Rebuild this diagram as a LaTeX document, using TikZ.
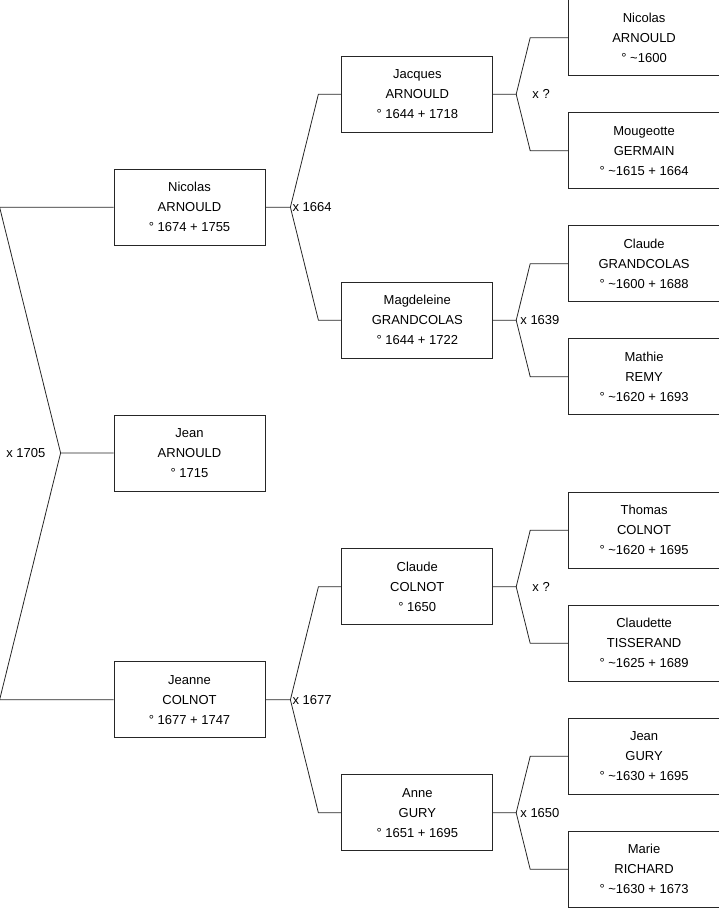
\documentclass[tikz,border=0pt]{standalone}
\usepackage{fontspec}
\setmainfont{Liberation Sans}
\usetikzlibrary{positioning}
\tikzset{person/.style={draw=black!85, line width=0.8pt, minimum width=151pt, minimum height=76pt, inner sep=0pt, align=center, text=black, font=\fontsize{13}{20}\selectfont}}
\tikzset{famlink/.style={draw=black!85, line width=0.8pt}}
\tikzset{wedlabel/.style={inner sep=2pt, text=black, font=\fontsize{13}{16}\selectfont}}
\newcommand{\tl}{\textasciitilde}

\begin{document}
\begin{tikzpicture}
\useasboundingbox (0,0) rectangle (719pt,-908pt);
% children
\node[person] (jean) at (189.5pt,-453pt) {Jean\\ARNOULD\\° 1715};
\node[person, above=169pt of jean] (nicolas) {Nicolas\\ARNOULD\\° 1674 + 1755};
\node[person, below=170pt of jean] (jeanne) {Jeanne\\COLNOT\\° 1677 + 1747};
% parents
\node[person, right=76pt of nicolas, yshift=113pt] (jacques) {Jacques\\ARNOULD\\° 1644 + 1718};
\node[person, right=76pt of nicolas, yshift=-113pt] (magd) {Magdeleine\\GRANDCOLAS\\° 1644 + 1722};
\node[person, right=76pt of jeanne, yshift=113pt] (claude) {Claude\\COLNOT\\° 1650};
\node[person, right=76pt of jeanne, yshift=-113pt] (anne) {Anne\\GURY\\° 1651 + 1695};
% grandparents
\node[person, right=75pt of jacques, yshift=56.5pt] (nicolasA) {Nicolas\\ARNOULD\\° \tl1600};
\node[person, right=75pt of jacques, yshift=-56.5pt] (mougeotte) {Mougeotte\\GERMAIN\\° \tl1615 + 1664};
\node[person, right=75pt of magd, yshift=56.5pt] (claudeG) {Claude\\GRANDCOLAS\\° \tl1600 + 1688};
\node[person, right=75pt of magd, yshift=-56.5pt] (mathie) {Mathie\\REMY\\° \tl1620 + 1693};
\node[person, right=75pt of claude, yshift=56.5pt] (thomas) {Thomas\\COLNOT\\° \tl1620 + 1695};
\node[person, right=75pt of claude, yshift=-56.5pt] (claudette) {Claudette\\TISSERAND\\° \tl1625 + 1689};
\node[person, right=75pt of anne, yshift=56.5pt] (jeanG) {Jean\\GURY\\° \tl1630 + 1695};
\node[person, right=75pt of anne, yshift=-56.5pt] (marie) {Marie\\RICHARD\\° \tl1630 + 1673};
% forks
\coordinate[left=53pt of jean] (jean-f);
\coordinate[left=114pt of nicolas] (nicolas-k);
\coordinate[left=114pt of jeanne] (jeanne-k);
\draw[famlink] (nicolas) -- (nicolas-k) -- (jean-f) -- (jean);
\draw[famlink] (jean-f) -- (jeanne-k) -- (jeanne);
\node[wedlabel, left=13pt of jean-f] (w-jean) {x 1705};
\coordinate[right=25pt of nicolas] (nicolas-f);
\coordinate[left=23pt of jacques] (jacques-k);
\coordinate[left=23pt of magd] (magd-k);
\draw[famlink] (nicolas) -- (nicolas-f) -- (jacques-k) -- (jacques);
\draw[famlink] (nicolas-f) -- (magd-k) -- (magd);
\node[wedlabel, right=0pt of nicolas-f] (w-nicolas) {x 1664};
\coordinate[right=25pt of jeanne] (jeanne-f);
\coordinate[left=23pt of claude] (claude-k);
\coordinate[left=23pt of anne] (anne-k);
\draw[famlink] (jeanne) -- (jeanne-f) -- (claude-k) -- (claude);
\draw[famlink] (jeanne-f) -- (anne-k) -- (anne);
\node[wedlabel, right=0pt of jeanne-f] (w-jeanne) {x 1677};
\coordinate[right=23pt of jacques] (jacques-f);
\coordinate[left=38pt of nicolasA] (nicolasA-k);
\coordinate[left=38pt of mougeotte] (mougeotte-k);
\draw[famlink] (jacques) -- (jacques-f) -- (nicolasA-k) -- (nicolasA);
\draw[famlink] (jacques-f) -- (mougeotte-k) -- (mougeotte);
\node[wedlabel, right=14pt of jacques-f] (w-jacques) {x ?};
\coordinate[right=23pt of magd] (magd-f);
\coordinate[left=38pt of claudeG] (claudeG-k);
\coordinate[left=38pt of mathie] (mathie-k);
\draw[famlink] (magd) -- (magd-f) -- (claudeG-k) -- (claudeG);
\draw[famlink] (magd-f) -- (mathie-k) -- (mathie);
\node[wedlabel, right=2pt of magd-f] (w-magd) {x 1639};
\coordinate[right=23pt of claude] (claude-f);
\coordinate[left=38pt of thomas] (thomas-k);
\coordinate[left=38pt of claudette] (claudette-k);
\draw[famlink] (claude) -- (claude-f) -- (thomas-k) -- (thomas);
\draw[famlink] (claude-f) -- (claudette-k) -- (claudette);
\node[wedlabel, right=14pt of claude-f] (w-claude) {x ?};
\coordinate[right=23pt of anne] (anne-f);
\coordinate[left=38pt of jeanG] (jeanG-k);
\coordinate[left=38pt of marie] (marie-k);
\draw[famlink] (anne) -- (anne-f) -- (jeanG-k) -- (jeanG);
\draw[famlink] (anne-f) -- (marie-k) -- (marie);
\node[wedlabel, right=2pt of anne-f] (w-anne) {x 1650};
\end{tikzpicture}
\end{document}
